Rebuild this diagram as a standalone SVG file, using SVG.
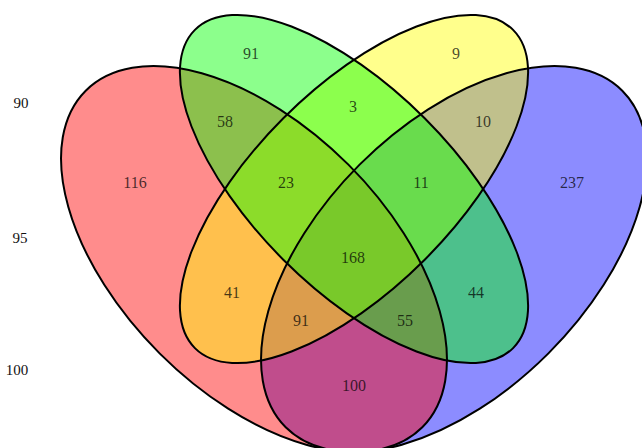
<svg xmlns="http://www.w3.org/2000/svg" xmlns:xlink="http://www.w3.org/1999/xlink" width="642" height="448" viewBox="0 0 642 448">
  <style>
    .fill { fill-opacity: 0.45; stroke: none; }
    .outline { fill: none; stroke: #000; stroke-width: 2; }
    .num { font-family: "Liberation Serif", "DejaVu Serif", serif; font-size: 16px; text-anchor: middle; fill: #000; fill-opacity: 0.72; }
    .side { font-family: "Liberation Serif", "DejaVu Serif", serif; font-size: 15px; text-anchor: middle; fill: #111; }
  </style>
  <defs>
    <ellipse id="e-blue" cx="454" cy="259" rx="238" ry="133.5" transform="rotate(-45 454 259)"/>
    <ellipse id="e-red" cx="254" cy="259" rx="238" ry="133.5" transform="rotate(45 254 259)"/>
    <ellipse id="e-yellow" cx="354" cy="189" rx="225" ry="100" transform="rotate(-45 354 189)"/>
    <ellipse id="e-green" cx="354" cy="189" rx="225" ry="100" transform="rotate(45 354 189)"/>
  </defs>
  <rect width="642" height="448" fill="#fff"/>
  <g id="set-blue"><use xlink:href="#e-blue" class="fill" fill="#0000ff"/></g>
  <g id="set-red"><use xlink:href="#e-red" class="fill" fill="#ff0000"/></g>
  <g id="set-yellow"><use xlink:href="#e-yellow" class="fill" fill="#ffff00"/></g>
  <g id="set-green"><use xlink:href="#e-green" class="fill" fill="#00ff00"/></g>
  <g id="connectors">
    <use xlink:href="#e-blue" class="outline"/>
    <use xlink:href="#e-red" class="outline"/>
    <use xlink:href="#e-yellow" class="outline"/>
    <use xlink:href="#e-green" class="outline"/>
  </g>
  <g id="labels">
    <text class="num" x="251" y="59">91</text>
    <text class="num" x="456" y="59">9</text>
    <text class="num" x="225" y="127">58</text>
    <text class="num" x="353" y="112">3</text>
    <text class="num" x="483" y="127">10</text>
    <text class="num" x="135" y="188">116</text>
    <text class="num" x="286" y="188">23</text>
    <text class="num" x="421" y="188">11</text>
    <text class="num" x="572" y="188">237</text>
    <text class="num" x="353" y="263">168</text>
    <text class="num" x="232" y="298">41</text>
    <text class="num" x="476" y="298">44</text>
    <text class="num" x="301" y="326">91</text>
    <text class="num" x="405" y="326">55</text>
    <text class="num" x="354" y="391">100</text>
  </g>
  <g id="side-labels">
    <text class="side" x="21" y="108">90</text>
    <text class="side" x="20" y="243">95</text>
    <text class="side" x="17" y="375">100</text>
  </g>
</svg>
